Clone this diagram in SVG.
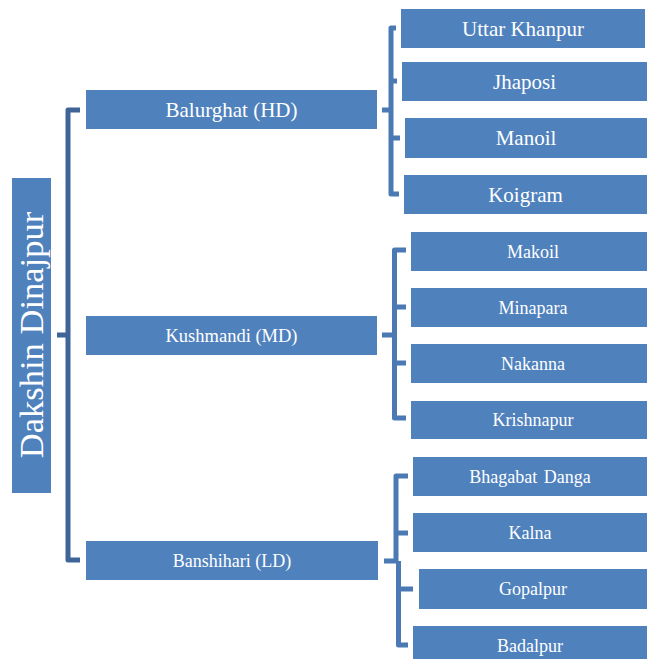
<svg xmlns="http://www.w3.org/2000/svg" width="648" height="659" viewBox="0 0 648 659">
<style>
.box{fill:#4F81BD;}
.t{font-family:"Liberation Serif","Times New Roman",serif;fill:#ffffff;text-anchor:middle;}
.c1{fill:none;stroke:#3F6598;stroke-width:5;stroke-linejoin:round;}
.c2{fill:none;stroke:#4A79B3;stroke-width:5;stroke-linejoin:round;}
</style>
<rect width="648" height="659" fill="#ffffff"/>
<g id="connectors">
<path class="c1" d="M80,110 H68 V560 H80 M57,335 H68"/>
<path class="c2" d="M396,28 H391 V194 H399 M391,81 H397 M391,138 H400 M382,110 H391"/>
<path class="c2" d="M406,250 H394.5 V418 H406 M394.5,307 H406 M394.5,363 H406 M382,335 H394.5"/>
<path class="c2" d="M408,476 H396 V561 M398.5,561 V645 H408 M396,533 H408 M398.5,589 H413 M384,561 H398.5"/>
</g>
<g id="root">
<rect class="box" x="12" y="178" width="39" height="315"/>
<text class="t" font-size="34.5" transform="translate(43,335) rotate(-90)">Dakshin Dinajpur</text>
</g>
<g id="balurghat">
<rect class="box" x="86" y="90" width="291" height="39"/>
<text class="t" font-size="21" x="231.5" y="117">Balurghat (HD)</text>
</g>
<g id="kushmandi">
<rect class="box" x="86" y="316" width="291" height="39"/>
<text class="t" font-size="18.5" x="231.5" y="341.5">Kushmandi (MD)</text>
</g>
<g id="banshihari">
<rect class="box" x="86" y="541" width="292" height="39"/>
<text class="t" font-size="18" x="232" y="566.5">Banshihari (LD)</text>
</g>
<g id="uttar-khanpur">
<rect class="box" x="401" y="9" width="244" height="39"/>
<text class="t" font-size="21" x="523" y="35.5">Uttar Khanpur</text>
</g>
<g id="jhaposi">
<rect class="box" x="402" y="62" width="245" height="39"/>
<text class="t" font-size="21" x="524.5" y="88.5">Jhaposi</text>
</g>
<g id="manoil">
<rect class="box" x="405" y="118" width="242" height="40"/>
<text class="t" font-size="21" x="526" y="145">Manoil</text>
</g>
<g id="koigram">
<rect class="box" x="404" y="175" width="243" height="39"/>
<text class="t" font-size="21" x="525.5" y="201.5">Koigram</text>
</g>
<g id="makoil">
<rect class="box" x="411" y="232" width="236" height="39"/>
<text class="t" font-size="18" x="533" y="257.5">Makoil</text>
</g>
<g id="minapara">
<rect class="box" x="411" y="288" width="236" height="39"/>
<text class="t" font-size="18" x="533" y="313.5">Minapara</text>
</g>
<g id="nakanna">
<rect class="box" x="411" y="344" width="236" height="39"/>
<text class="t" font-size="18" x="533" y="369.5">Nakanna</text>
</g>
<g id="krishnapur">
<rect class="box" x="411" y="401" width="236" height="38"/>
<text class="t" font-size="18" x="533" y="426">Krishnapur</text>
</g>
<g id="bhagabat-danga">
<rect class="box" x="413" y="457" width="234" height="39"/>
<text class="t" font-size="18" x="530" y="482.5" word-spacing="2">Bhagabat Danga</text>
</g>
<g id="kalna">
<rect class="box" x="413" y="513" width="234" height="39"/>
<text class="t" font-size="18" x="530" y="538.5">Kalna</text>
</g>
<g id="gopalpur">
<rect class="box" x="419" y="569" width="228" height="40"/>
<text class="t" font-size="18" x="533" y="595">Gopalpur</text>
</g>
<g id="badalpur">
<rect class="box" x="413" y="626" width="234" height="39"/>
<text class="t" font-size="18" x="530" y="651.5">Badalpur</text>
</g>
</svg>
